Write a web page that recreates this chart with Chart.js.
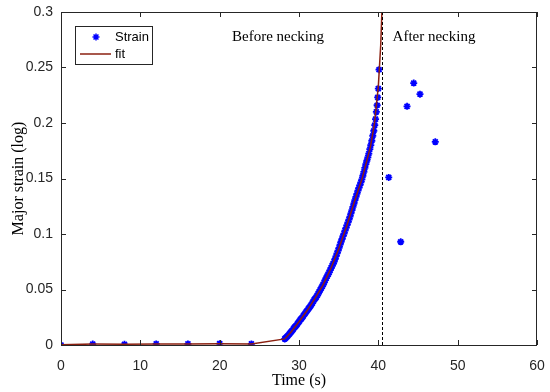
<!DOCTYPE html>
<html lang="en">
<head>
<meta charset="UTF-8">
<title>Major strain vs time</title>
<style>
  body { margin: 0; background: #fff; }
  #chartBox { width: 550px; height: 392px; }
</style>
</head>
<body>
<div id="chartBox"><canvas id="strainChart" width="550" height="392"></canvas></div>
<script src="https://cdnjs.cloudflare.com/ajax/libs/Chart.js/4.4.1/chart.umd.min.js"></script>
<script>
// measured points (time in s, major strain)
const strainTime = [0, 4, 8, 12, 16, 20, 24,
  28.20, 28.30, 28.42, 28.55, 28.68, 28.80, 28.93, 29.05, 29.18, 29.30,
  29.42, 29.55, 29.68, 29.80, 29.93, 30.05, 30.18, 30.30, 30.43, 30.55,
  30.68, 30.80, 30.93, 31.05, 31.18, 31.30, 31.43, 31.55, 31.68, 31.80,
  31.93, 32.05, 32.18, 32.30, 32.43, 32.55, 32.68, 32.80, 32.93, 33.05,
  33.18, 33.30, 33.43, 33.55, 33.68, 33.80, 33.93, 34.05, 34.18, 34.30,
  34.43, 34.55, 34.68, 34.80, 34.93, 35.05, 35.18, 35.30, 35.43, 35.55,
  35.68, 35.80, 35.93, 36.05, 36.18, 36.30, 36.43, 36.55, 36.68, 36.80,
  36.93, 37.05, 37.18, 37.30, 37.43, 37.55, 37.68, 37.80, 37.93, 38.05,
  38.18, 38.30, 38.43, 38.55, 38.68, 38.80, 38.93, 39.05, 39.18, 39.30,
  39.43, 39.55, 39.65, 39.75, 39.85, 39.92, 40.00, 40.09,
  41.31, 42.82, 43.62, 44.46, 45.25, 47.18];
const strainValue = [0, 0.0008, 0.0006, 0.0010, 0.0010, 0.0012, 0.0010,
  0.0055, 0.0062, 0.0070, 0.0080, 0.0090, 0.0100, 0.0112, 0.0122, 0.0133, 0.0145,
  0.0158, 0.0168, 0.0178, 0.0190, 0.0203, 0.0215, 0.0228, 0.0238, 0.0250, 0.0263,
  0.0277, 0.0288, 0.0300, 0.0313, 0.0325, 0.0337, 0.0350, 0.0362, 0.0378, 0.0393,
  0.0408, 0.0420, 0.0432, 0.0447, 0.0463, 0.0480, 0.0497, 0.0512, 0.0528, 0.0545,
  0.0565, 0.0585, 0.0603, 0.0620, 0.0637, 0.0655, 0.0675, 0.0695, 0.0713, 0.0732,
  0.0752, 0.0775, 0.0800, 0.0825, 0.0850, 0.0875, 0.0905, 0.0930, 0.0955, 0.0980,
  0.1003, 0.1030, 0.1055, 0.1080, 0.1105, 0.1130, 0.1156, 0.1185, 0.1215, 0.1245,
  0.1275, 0.1305, 0.1335, 0.1362, 0.1390, 0.1415, 0.1440, 0.1465, 0.1492, 0.1525,
  0.1560, 0.1595, 0.1630, 0.1660, 0.1690, 0.1725, 0.1765, 0.1800, 0.1840, 0.1885,
  0.1930, 0.1980, 0.2035, 0.2100, 0.2160, 0.2230, 0.2310, 0.2480,
  0.151, 0.093, 0.215, 0.236, 0.226, 0.183];

// fitted curve
const fitTime = [0, 4, 8, 12, 16, 20, 24, 28.2, 29, 30, 31, 32, 33, 34, 35, 36, 37, 38, 39, 39.5, 40, 40.3, 40.5];
const fitValue = [0.0003, 0.0008, 0.0007, 0.0010, 0.0010, 0.0011, 0.0010, 0.0055, 0.0117, 0.0210, 0.0308,
  0.0418, 0.0538, 0.0687, 0.0865, 0.1070, 0.1295, 0.1510, 0.1785, 0.1990, 0.2330, 0.2700, 0.3100];

const neckingTime = 40.4;
const xTicks = [0, 10, 20, 30, 40, 50, 60];
const yTicks = [0, 0.05, 0.1, 0.15, 0.2, 0.25, 0.3];

const axisColor = '#262626';
const fitColor = '#8b2010';
const sansFont = "'Liberation Sans', Arial, sans-serif";
const serifFont = "'Liberation Serif', 'Times New Roman', serif";

function toPoints(xs, ys) {
  return xs.map((x, i) => ({ x: x, y: ys[i] }));
}

// box, inward ticks, dashed necking line, labels and legend
const matlabStyle = {
  id: 'matlabStyle',
  afterDatasetsDraw(chart) {
    const ctx = chart.ctx;
    const a = chart.chartArea;
    const xs = chart.scales.x, ys = chart.scales.y;
    ctx.save();

    // necking line
    const nx = Math.round(xs.getPixelForValue(neckingTime)) + 0.5;
    ctx.strokeStyle = '#000';
    ctx.lineWidth = 1;
    ctx.setLineDash([3, 2]);
    ctx.beginPath();
    ctx.moveTo(nx, a.top);
    ctx.lineTo(nx, a.bottom);
    ctx.stroke();
    ctx.setLineDash([]);

    // frame and ticks
    ctx.strokeStyle = axisColor;
    ctx.strokeRect(a.left + 0.5, a.top + 0.5, a.right - a.left - 1, a.bottom - a.top);
    ctx.beginPath();
    xTicks.forEach(v => {
      const px = Math.round(xs.getPixelForValue(v)) + 0.5;
      ctx.moveTo(px, a.bottom); ctx.lineTo(px, a.bottom - 5);
      ctx.moveTo(px, a.top); ctx.lineTo(px, a.top + 5);
    });
    yTicks.forEach(v => {
      const py = Math.round(ys.getPixelForValue(v)) + 0.5;
      ctx.moveTo(a.left, py); ctx.lineTo(a.left + 5, py);
      ctx.moveTo(a.right, py); ctx.lineTo(a.right - 5, py);
    });
    ctx.stroke();

    // region labels
    ctx.fillStyle = '#000';
    ctx.font = '15px ' + serifFont;
    ctx.textAlign = 'center';
    ctx.textBaseline = 'middle';
    ctx.fillText('Before necking', 278, 37);
    ctx.fillText('After necking', 434, 37);

    // legend
    ctx.fillStyle = '#fff';
    ctx.fillRect(75, 26, 77, 38);
    ctx.strokeStyle = axisColor;
    ctx.strokeRect(75.5, 26.5, 77, 38);
    ctx.strokeStyle = '#0000ff';
    ctx.lineWidth = 1.5;
    const sx = 96, sy = 37, r = 3.5;
    ctx.beginPath();
    ctx.moveTo(sx - r, sy); ctx.lineTo(sx + r, sy);
    ctx.moveTo(sx, sy - r); ctx.lineTo(sx, sy + r);
    ctx.moveTo(sx - r * 0.7, sy - r * 0.7); ctx.lineTo(sx + r * 0.7, sy + r * 0.7);
    ctx.moveTo(sx - r * 0.7, sy + r * 0.7); ctx.lineTo(sx + r * 0.7, sy - r * 0.7);
    ctx.stroke();
    ctx.strokeStyle = fitColor;
    ctx.lineWidth = 1.5;
    ctx.beginPath();
    ctx.moveTo(80, 54); ctx.lineTo(111, 54);
    ctx.stroke();
    ctx.fillStyle = '#000';
    ctx.font = '13px ' + sansFont;
    ctx.textAlign = 'left';
    ctx.fillText('Strain', 115, 37);
    ctx.fillText('fit', 115, 54);

    ctx.restore();
  }
};

new Chart(document.getElementById('strainChart'), {
  type: 'scatter',
  data: {
    datasets: [
      {
        type: 'line',
        label: 'fit',
        data: toPoints(fitTime, fitValue),
        borderColor: fitColor,
        borderWidth: 1.5,
        pointRadius: 0,
        tension: 0,
        fill: false,
        order: 0
      },
      {
        label: 'Strain',
        data: toPoints(strainTime, strainValue),
        pointStyle: 'star',
        pointRadius: 3.5,
        borderColor: '#0000ff',
        backgroundColor: '#0000ff',
        borderWidth: 1.8,
        order: 1
      }
    ]
  },
  plugins: [matlabStyle],
  options: {
    responsive: false,
    animation: false,
    layout: { padding: { left: 0, right: 13, top: 12, bottom: 0 } },
    plugins: {
      legend: { display: false },
      tooltip: { enabled: false }
    },
    scales: {
      x: {
        type: 'linear',
        min: 0, max: 60,
        afterBuildTicks: s => { s.ticks = xTicks.map(v => ({ value: v })); },
        afterFit: s => { s.height = 47; },
        grid: { display: false },
        border: { display: false },
        ticks: { color: axisColor, font: { family: sansFont, size: 14 }, padding: 5, maxRotation: 0 },
        title: { display: true, text: 'Time (s)', color: '#000', font: { family: serifFont, size: 16 }, padding: { top: 0, bottom: 2 } }
      },
      y: {
        type: 'linear',
        min: 0, max: 0.3,
        afterBuildTicks: s => { s.ticks = yTicks.map(v => ({ value: v })); },
        afterFit: s => { s.width = 61; },
        grid: { display: false },
        border: { display: false },
        ticks: { color: axisColor, font: { family: sansFont, size: 14 }, padding: 0, callback: v => String(+v.toFixed(2)) },
        title: { display: true, text: 'Major strain (log)', color: '#000', font: { family: serifFont, size: 16 }, padding: { top: 9, bottom: 0 } }
      }
    }
  }
});
</script>
</body>
</html>
